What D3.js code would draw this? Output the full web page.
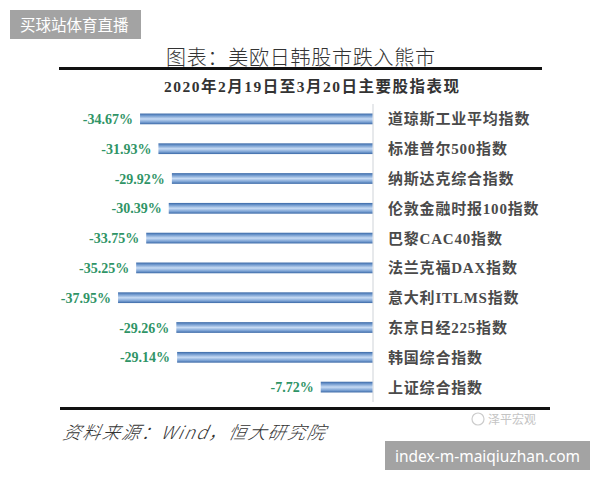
<!DOCTYPE html>
<html>
<head>
<meta charset="utf-8">
<script src="https://cdn.jsdelivr.net/npm/d3@7"></script>
<style>
  html, body { margin: 0; padding: 0; background: #fff; }
  svg { display: block; }
</style>
</head>
<body>
<svg id="chart" width="600" height="480"></svg>
<script>
const categories = [
  "道琼斯工业平均指数",
  "标准普尔500指数",
  "纳斯达克综合指数",
  "伦敦金融时报100指数",
  "巴黎CAC40指数",
  "法兰克福DAX指数",
  "意大利ITLMS指数",
  "东京日经225指数",
  "韩国综合指数",
  "上证综合指数"
];
const values = [-34.67, -31.93, -29.92, -30.39, -33.75, -35.25, -37.95, -29.26, -29.14, -7.72];
const valueLabels = ["-34.67%", "-31.93%", "-29.92%", "-30.39%", "-33.75%", "-35.25%", "-37.95%", "-29.26%", "-29.14%", "-7.72%"];
const titleText = "图表：美欧日韩股市跌入熊市";
const subtitleText = "2020年2月19日至3月20日主要股指表现";
const sourceText = "资料来源：Wind，恒大研究院";
const watermarkTop = "买球站体育直播";
const watermarkBottom = "index-m-maiqiuzhan.com";
const logoText = "泽平宏观";

const svg = d3.select("#chart");
const defs = svg.append("defs");
const grad = defs.append("linearGradient").attr("id", "barGrad")
  .attr("x1", 0).attr("y1", 0).attr("x2", 0).attr("y2", 1);
[["0%", "#3a68a6"], ["18%", "#6b95cb"], ["50%", "#c7dbf4"], ["80%", "#7aa1d3"], ["100%", "#3a68a6"]]
  .forEach(([o, c]) => grad.append("stop").attr("offset", o).attr("stop-color", c));

const x = d3.scaleLinear().domain([-40, 0]).range([104.3, 372.5]);
const y = d3.scaleBand().domain(categories).range([104, 402]).paddingInner(0).paddingOuter(0);
const barH = y.bandwidth() * 0.36;

// title
svg.append("text").attr("x", 166).attr("y", 65)
  .attr("font-family", "'Noto Sans CJK SC', sans-serif").attr("font-size", 20)
  .attr("font-weight", 300).attr("fill", "#333")
  .attr("textLength", 269).attr("lengthAdjust", "spacing")
  .text(titleText);
svg.append("line").attr("x1", 59).attr("x2", 542).attr("y1", 68.5).attr("y2", 68.5)
  .attr("stroke", "#111").attr("stroke-width", 3);

// subtitle
svg.append("text").attr("x", 164).attr("y", 92)
  .attr("font-family", "'Liberation Serif', 'Noto Sans CJK SC', serif").attr("font-size", 15.5)
  .attr("font-weight", "bold").attr("fill", "#333")
  .attr("textLength", 295).attr("lengthAdjust", "spacing")
  .text(subtitleText);

// zero line
svg.append("line").attr("x1", x(0) + 0.5).attr("x2", x(0) + 0.5).attr("y1", 104).attr("y2", 402)
  .attr("stroke", "#cfd3d8").attr("stroke-width", 1);

// bars
svg.append("g").selectAll("rect").data(values).join("rect")
  .attr("x", d => x(d))
  .attr("width", d => x(0) - x(d))
  .attr("y", (d, i) => y(categories[i]) + y.bandwidth() / 2 - barH / 2)
  .attr("height", barH)
  .attr("fill", "url(#barGrad)");

// value labels
svg.append("g").selectAll("text").data(values).join("text")
  .attr("x", d => x(d) - 7)
  .attr("y", (d, i) => y(categories[i]) + y.bandwidth() / 2 + 5)
  .attr("text-anchor", "end")
  .attr("font-family", "'Liberation Serif', serif").attr("font-size", 14)
  .attr("font-weight", "bold").attr("fill", "#2f9466")
  .text((d, i) => valueLabels[i]);

// category labels
svg.append("g").selectAll("text").data(categories).join("text")
  .attr("x", 388)
  .attr("y", d => y(d) + y.bandwidth() / 2 + 5.5)
  .attr("font-family", "'Liberation Serif', 'Noto Sans CJK SC', serif").attr("font-size", 15)
  .attr("font-weight", "bold").attr("fill", "#4a4a4a")
  .attr("letter-spacing", 0.8)
  .text(d => d);

// bottom rule
svg.append("line").attr("x1", 60).attr("x2", 550).attr("y1", 408.5).attr("y2", 408.5)
  .attr("stroke", "#111").attr("stroke-width", 3);

// source
svg.append("text").attr("x", 62).attr("y", 439)
  .attr("font-family", "'Noto Sans CJK SC', sans-serif").attr("font-size", 18)
  .attr("font-style", "italic").attr("font-weight", 300).attr("fill", "#333")
  .attr("textLength", 262).attr("lengthAdjust", "spacing")
  .attr("transform", "skewX(-12) translate(" + (439 * Math.tan(12 * Math.PI / 180)) + ",0)")
  .text(sourceText);

// logo
svg.append("circle").attr("cx", 478).attr("cy", 419).attr("r", 6)
  .attr("fill", "none").attr("stroke", "#ccc").attr("stroke-width", 1.2);
svg.append("text").attr("x", 488).attr("y", 424)
  .attr("font-family", "'Noto Sans CJK SC', sans-serif").attr("font-size", 12)
  .attr("fill", "#c4c4c4").text(logoText);

// watermarks
svg.append("rect").attr("x", 10).attr("y", 10).attr("width", 131).attr("height", 29).attr("fill", "#a3a3a3");
svg.append("text").attr("x", 20).attr("y", 31)
  .attr("font-family", "'Noto Sans CJK SC', sans-serif").attr("font-size", 15.5)
  .attr("fill", "#fff").text(watermarkTop);
svg.append("rect").attr("x", 385).attr("y", 441).attr("width", 205).attr("height", 29).attr("fill", "#a3a3a3");
svg.append("text").attr("x", 395).attr("y", 462)
  .attr("font-family", "'Noto Sans', sans-serif").attr("font-size", 16)
  .attr("fill", "#fff")
  .attr("textLength", 185).attr("lengthAdjust", "spacingAndGlyphs")
  .text(watermarkBottom);
</script>
</body>
</html>
